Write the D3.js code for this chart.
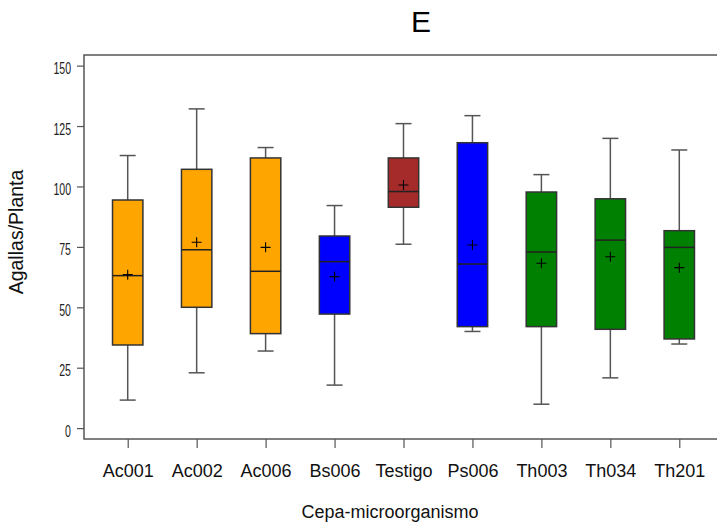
<!DOCTYPE html>
<html>
<head>
<meta charset="utf-8">
<script src="https://cdn.jsdelivr.net/npm/d3@7"></script>
<style>
  body { margin:0; background:#fff; }
  svg { display:block; font-family: Arial, "Liberation Sans", sans-serif; }
</style>
</head>
<body>
<svg id="chart" width="717" height="525"></svg>
<script>
// cepas y estadisticos
var cepas   = ["Ac001","Ac002","Ac006","Bs006","Testigo","Ps006","Th003","Th034","Th201"];
var colores = ["#FFA500","#FFA500","#FFA500","#0000FF","#A52A2A","#0000FF","#008000","#008000","#008000"];
var minimo  = [11.6, 22.9, 31.9, 17.8, 76.1, 40.0,  9.9, 20.8, 34.8];
var q1      = [34.4, 50.0, 39.1, 47.2, 91.4, 42.0, 42.0, 40.9, 36.9];
var mediana = [63.1, 73.8, 64.9, 68.9, 97.9, 67.9, 72.9, 77.8, 74.8];
var q3      = [94.4,107.1,111.8, 79.5,111.8,118.1, 97.7, 94.9, 81.7];
var maximo  = [112.8,132.1,116.1, 92.1,126.0,129.3,104.9,119.9,115.1];
var media   = [63.5, 76.9, 74.8, 62.7,100.6, 75.8, 68.2, 70.9, 66.4];
var yTicks  = [0, 25, 50, 75, 100, 125, 150];

var frame = {left:84, right:723, top:55, bottom:439};

var svg = d3.select('#chart');

var x = d3.scalePoint()
    .domain(cepas)
    .range([frame.left, frame.right])
    .padding(0.634);

var y = d3.scaleLinear()
    .domain([-4.5, 154.4])
    .range([frame.bottom, frame.top]);

var boxW = 30.4, capW = 16;

var rows = cepas.map(function(c, i) {
  return {cepa:c, color:colores[i], min:minimo[i], q1:q1[i], med:mediana[i],
          q3:q3[i], max:maximo[i], mean:media[i]};
});

// marco
svg.append("rect")
    .attr("x", frame.left)
    .attr("y", frame.top)
    .attr("width", frame.right - frame.left)
    .attr("height", frame.bottom - frame.top)
    .attr("fill", "none")
    .attr("stroke", "#555")
    .attr("stroke-width", 1.5);

// eje y
var gy = svg.append("g")
    .attr("transform", "translate(" + frame.left + ",0)")
    .call(d3.axisLeft(y).tickValues(yTicks).tickSize(7).tickPadding(0));
gy.select(".domain").remove();
gy.selectAll(".tick line").attr("stroke", "#555").attr("stroke-width", 1.2);
gy.selectAll(".tick text")
    .attr("font-size", 16)
    .attr("font-family", "Arial, 'Liberation Sans', sans-serif")
    .attr("fill", "#222")
    .attr("x", -13 / 0.66)
    .attr("dy", "0.5em")
    .attr("transform", "scale(0.66,1)");

// eje x
var gx = svg.append("g")
    .attr("transform", "translate(0," + frame.bottom + ")")
    .call(d3.axisBottom(x).tickSize(9).tickPadding(16));
gx.select(".domain").remove();
gx.selectAll(".tick line").attr("stroke", "#555").attr("stroke-width", 1.2);
gx.selectAll(".tick text")
    .attr("font-size", 18)
    .attr("font-family", "Arial, 'Liberation Sans', sans-serif")
    .attr("fill", "#111");

// cajas
var box = svg.selectAll(".box")
  .data(rows)
  .enter().append("g")
    .attr("class", "box");

// bigotes
box.append("line")
    .attr("x1", function(d) { return x(d.cepa); })
    .attr("x2", function(d) { return x(d.cepa); })
    .attr("y1", function(d) { return y(d.max); })
    .attr("y2", function(d) { return y(d.q3); })
    .attr("stroke", "#555").attr("stroke-width", 1.5);
box.append("line")
    .attr("x1", function(d) { return x(d.cepa); })
    .attr("x2", function(d) { return x(d.cepa); })
    .attr("y1", function(d) { return y(d.q1); })
    .attr("y2", function(d) { return y(d.min); })
    .attr("stroke", "#555").attr("stroke-width", 1.5);
box.append("line")
    .attr("x1", function(d) { return x(d.cepa) - capW / 2; })
    .attr("x2", function(d) { return x(d.cepa) + capW / 2; })
    .attr("y1", function(d) { return y(d.max); })
    .attr("y2", function(d) { return y(d.max); })
    .attr("stroke", "#555").attr("stroke-width", 1.5);
box.append("line")
    .attr("x1", function(d) { return x(d.cepa) - capW / 2; })
    .attr("x2", function(d) { return x(d.cepa) + capW / 2; })
    .attr("y1", function(d) { return y(d.min); })
    .attr("y2", function(d) { return y(d.min); })
    .attr("stroke", "#555").attr("stroke-width", 1.5);

box.append("rect")
    .attr("x", function(d) { return x(d.cepa) - boxW / 2; })
    .attr("y", function(d) { return y(d.q3); })
    .attr("width", boxW)
    .attr("height", function(d) { return y(d.q1) - y(d.q3); })
    .attr("fill", function(d) { return d.color; })
    .attr("stroke", "#333")
    .attr("stroke-width", 1.5);

// mediana
box.append("line")
    .attr("x1", function(d) { return x(d.cepa) - boxW / 2; })
    .attr("x2", function(d) { return x(d.cepa) + boxW / 2; })
    .attr("y1", function(d) { return y(d.med); })
    .attr("y2", function(d) { return y(d.med); })
    .attr("stroke", "#222").attr("stroke-width", 1.5);

// media (+)
box.append("path")
    .attr("d", function(d) {
      var cx = x(d.cepa), cy = y(d.mean);
      return "M" + (cx - 5) + "," + cy + "H" + (cx + 5) + "M" + cx + "," + (cy - 5) + "V" + (cy + 5);
    })
    .attr("stroke", "#000").attr("stroke-width", 1.1).attr("fill", "none");

// titulos
svg.append("text")
    .attr("x", 421).attr("y", 32)
    .attr("text-anchor", "middle")
    .attr("font-size", 30)
    .attr("fill", "#000")
    .text("E");

svg.append("text")
    .attr("x", 390).attr("y", 518)
    .attr("text-anchor", "middle")
    .attr("font-size", 18)
    .attr("fill", "#111")
    .text("Cepa-microorganismo");

svg.append("text")
    .attr("transform", "translate(23,232) rotate(-90)")
    .attr("text-anchor", "middle")
    .attr("font-size", 19.5)
    .attr("fill", "#111")
    .text("Agallas/Planta");
</script>
</body>
</html>
